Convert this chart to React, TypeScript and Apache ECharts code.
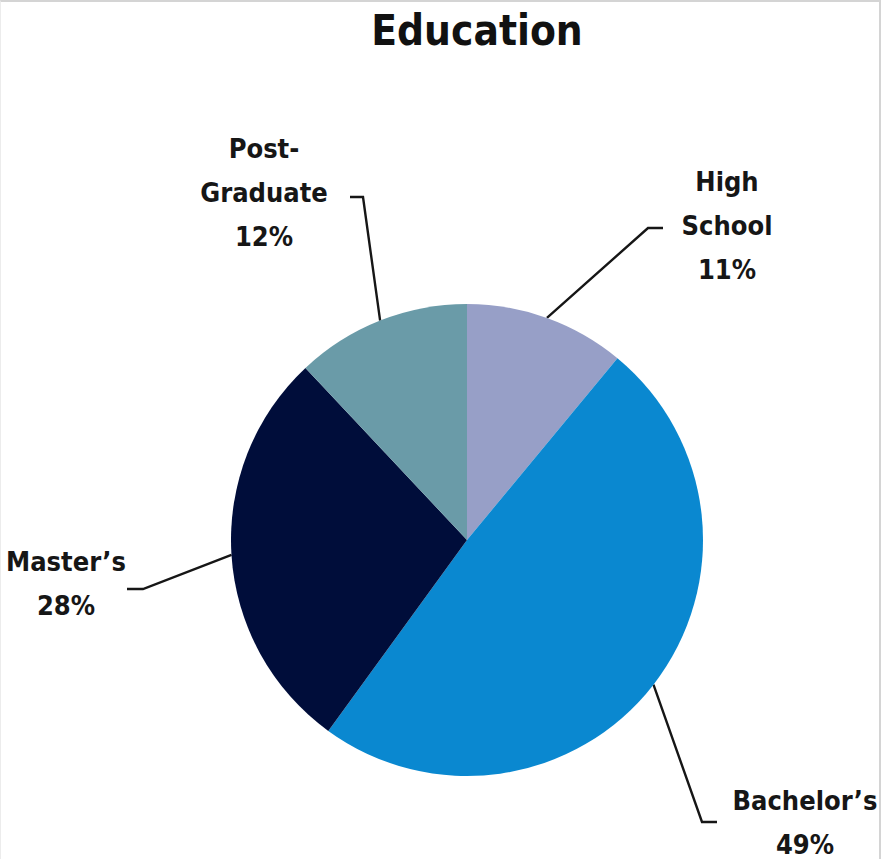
import React, { useEffect, useRef } from "react";
import * as echarts from "echarts";

const TITLE = "Education";
const CATEGORIES = ["High\nSchool", "Bachelor\u2019s", "Master\u2019s", "Post-\nGraduate"];
const PERCENTS = [11, 49, 28, 12];
const COLORS = ["#979FC7", "#0A88D0", "#000D3A", "#6A9BA8"];

// label placement (pixel positions of label centres and leader-line elbows)
const LABEL_POS = [
  { x: 727, y: 225, elbow: [648, 228], end: [663, 228] },
  { x: 805, y: 822, elbow: [702, 822], end: [717, 822] },
  { x: 66, y: 583, elbow: [143, 589], end: [127, 589] },
  { x: 264, y: 192, elbow: [363, 197], end: [350, 197] },
];

const FONT = "'DejaVu Sans Condensed', 'Liberation Sans Narrow', 'DejaVu Sans', sans-serif";

export default function App() {
  const ref = useRef<HTMLDivElement>(null);
  useEffect(() => {
    document.body.style.margin = "0";
    if (!ref.current) return;
    const chart = echarts.init(ref.current, undefined, { renderer: "svg" });
    chart.setOption({
      animation: false,
      backgroundColor: "#ffffff",
      graphic: [
        {
          type: "text",
          x: 477,
          y: 9,
          style: {
            text: TITLE,
            fontFamily: FONT,
            fontWeight: "bold",
            fontSize: 42,
            fill: "#111111",
            textAlign: "center",
            textVerticalAlign: "top",
          },
        },
      ],
      series: [
        {
          type: "pie",
          center: [467, 540],
          radius: 236,
          startAngle: 90,
          clockwise: true,
          data: CATEGORIES.map((name, i) => ({
            name,
            value: PERCENTS[i],
            itemStyle: { color: COLORS[i] },
          })),
          itemStyle: { borderWidth: 0 },
          emphasis: { disabled: true },
          label: {
            show: true,
            position: "outside",
            formatter: (p: any) => `${p.name}\n${p.value}%`,
            fontFamily: FONT,
            fontWeight: "bold",
            fontSize: 27,
            lineHeight: 44,
            color: "#161616",
            align: "center",
          },
          labelLine: {
            show: true,
            length: 20,
            length2: 20,
            smooth: false,
            lineStyle: { color: "#161616", width: 2.4 },
          },
          labelLayout: (params: any) => {
            const L = LABEL_POS[params.dataIndex];
            const pts = params.labelLinePoints;
            const res: any = {
              x: L.x,
              y: L.y,
              align: "center",
              verticalAlign: "middle",
            };
            if (pts && pts.length) {
              res.labelLinePoints = [pts[0], L.elbow, L.end];
            }
            return res;
          },
        },
      ],
    });
    return () => chart.dispose();
  }, []);
  return (
    <div
      style={{
        position: "relative",
        width: 881,
        height: 859,
        boxSizing: "border-box",
        borderTop: "2px solid #d4d4d4",
        borderRight: "2px solid #d4d4d4",
        borderLeft: "1px solid #ececec",
        overflow: "hidden",
      }}
    >
      <div ref={ref} style={{ position: "absolute", left: -1, top: -2, width: 881, height: 859 }} />
    </div>
  );
}
